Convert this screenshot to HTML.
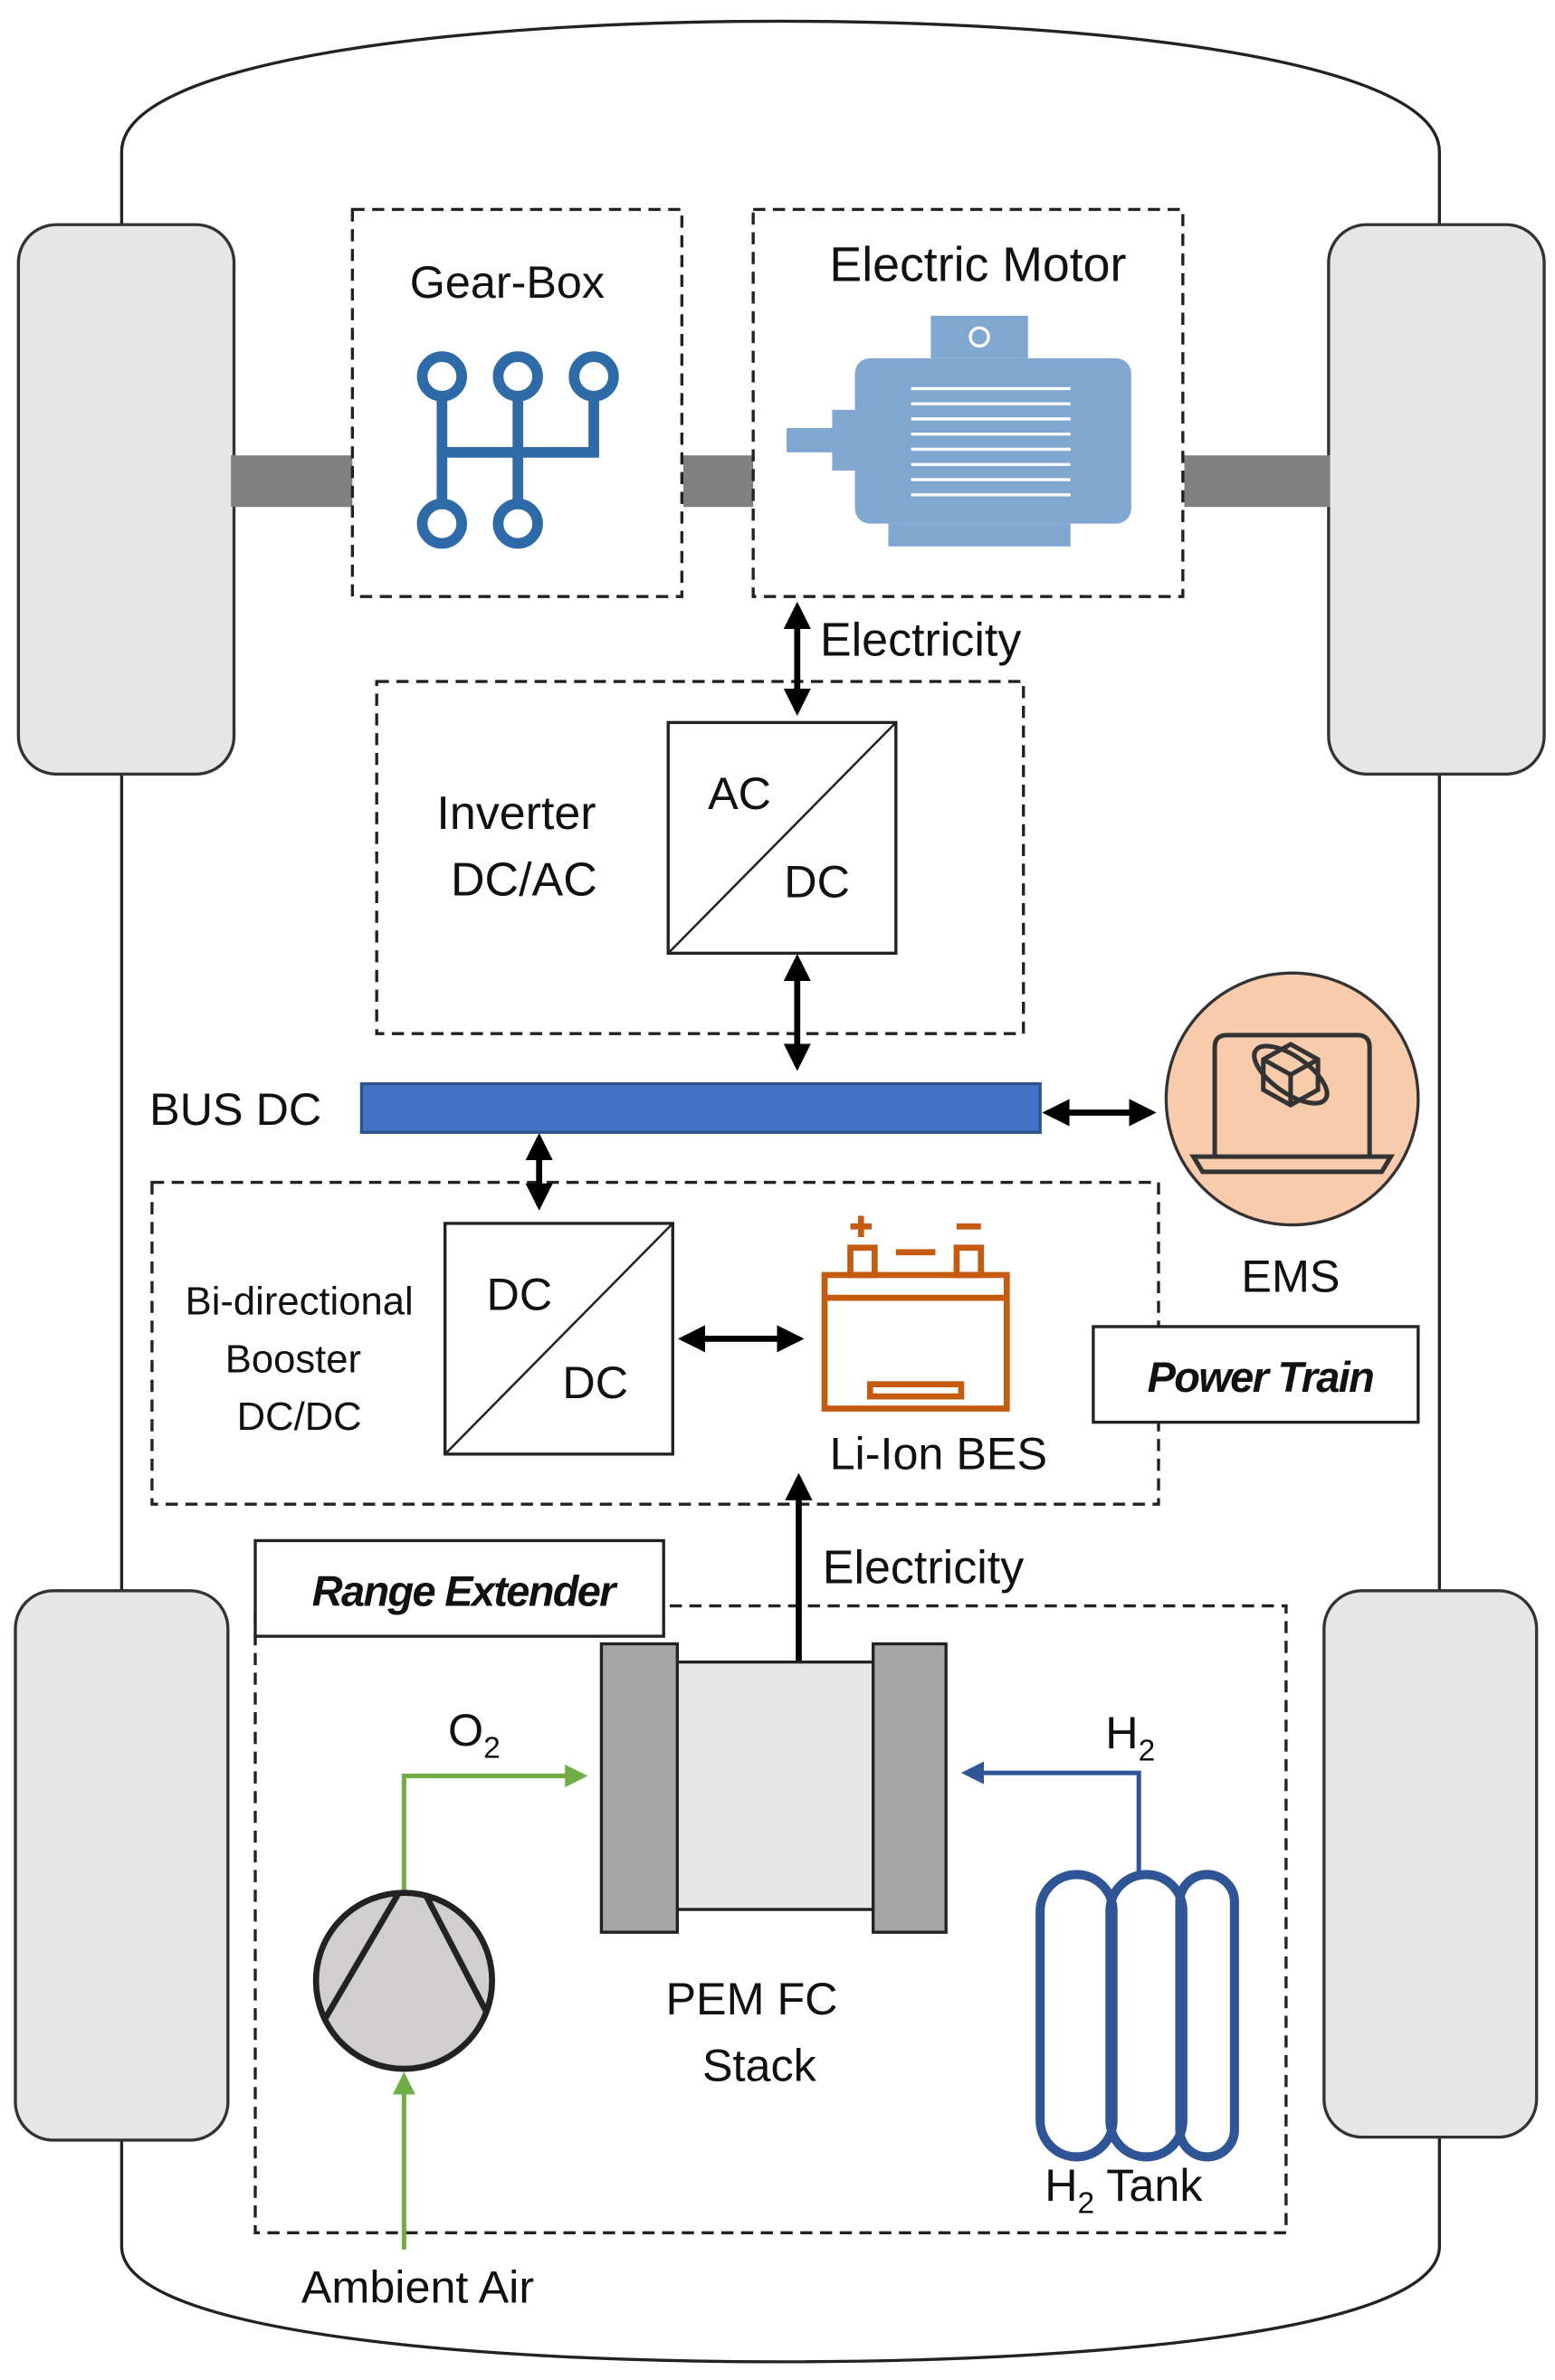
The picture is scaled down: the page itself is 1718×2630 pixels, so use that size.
<!DOCTYPE html>
<html><head><meta charset="utf-8"><style>
html,body{margin:0;padding:0;background:#fff}
svg{display:block}
text{font-family:"Liberation Sans","DejaVu Sans",sans-serif;fill:#111}
</style></head><body>
<svg width="1718" height="2630" viewBox="0 0 1024 1568" xmlns="http://www.w3.org/2000/svg">
<defs>
<marker id="ak" viewBox="0 0 10 10" refX="8" refY="5" markerWidth="4.5" markerHeight="4.5" orient="auto-start-reverse"><path d="M0,0 L10,5 L0,10 z" fill="#000"/></marker>
<marker id="ag" viewBox="0 0 10 10" refX="8" refY="5" markerWidth="5" markerHeight="5" orient="auto"><path d="M0,0 L10,5 L0,10 z" fill="#70ad47"/></marker>
<marker id="ab" viewBox="0 0 10 10" refX="8" refY="5" markerWidth="5" markerHeight="5" orient="auto"><path d="M0,0 L10,5 L0,10 z" fill="#2f5597"/></marker>
</defs>
<path d="M80,100 C80,40 300,14 514,14 C728,14 948,40 948,100 L948,1480 C948,1535 728,1556 514,1556 C300,1556 80,1535 80,1480 Z" fill="#fff" stroke="#222" stroke-width="2"/>
<g fill="#e6e6e6" stroke="#333" stroke-width="2">
<rect x="12" y="148" width="142" height="362" rx="25"/>
<rect x="875" y="148" width="142" height="362" rx="25"/>
<rect x="10" y="1048" width="140" height="362" rx="25"/>
<rect x="872" y="1048" width="140" height="360" rx="25"/>
</g>
<g fill="#808080">
<rect x="152" y="300" width="80" height="34"/>
<rect x="450" y="300" width="46" height="34"/>
<rect x="780" y="300" width="96" height="34"/>
</g>
<g fill="none" stroke="#222" stroke-width="2" stroke-dasharray="8,5">
<rect x="232" y="138" width="217" height="255"/>
<rect x="496" y="138" width="283" height="255"/>
<rect x="248" y="449" width="426" height="232"/>
<rect x="100" y="779" width="663" height="212"/>
<rect x="168" y="1058" width="679" height="413"/>
</g>
<text x="334" y="196" font-size="30" text-anchor="middle">Gear-Box</text>
<text x="644" y="185" font-size="32" text-anchor="middle">Electric Motor</text>
<g fill="none" stroke="#2e6aa8" stroke-width="7">
<circle cx="291" cy="248" r="13"/><circle cx="341" cy="248" r="13"/><circle cx="391" cy="248" r="13"/>
<circle cx="291" cy="345" r="13"/><circle cx="341" cy="345" r="13"/>
<path d="M291,261 V332 M341,261 V332 M391,261 V298 H291"/>
</g>
<g fill="#7fa7cf">
<rect x="613" y="208" width="64" height="28"/>
<rect x="563" y="236" width="182" height="109" rx="10"/>
<rect x="518" y="282" width="42" height="16"/>
<rect x="548" y="270" width="16" height="40"/>
<rect x="585" y="345" width="120" height="15"/>
</g>
<circle cx="645" cy="222" r="6" fill="none" stroke="#fff" stroke-width="2"/>
<g stroke="#fff" stroke-width="2">
<line x1="600" y1="256" x2="705" y2="256"/><line x1="600" y1="266" x2="705" y2="266"/><line x1="600" y1="276" x2="705" y2="276"/><line x1="600" y1="286" x2="705" y2="286"/><line x1="600" y1="296" x2="705" y2="296"/><line x1="600" y1="306" x2="705" y2="306"/><line x1="600" y1="316" x2="705" y2="316"/><line x1="600" y1="326" x2="705" y2="326"/>
</g>
<g stroke="#000" stroke-width="4" fill="none">
<line x1="525" y1="400" x2="525" y2="468" marker-start="url(#ak)" marker-end="url(#ak)"/>
<line x1="525" y1="632" x2="525" y2="702" marker-start="url(#ak)" marker-end="url(#ak)"/>
<line x1="690" y1="733" x2="758" y2="733" marker-start="url(#ak)" marker-end="url(#ak)"/>
<line x1="355" y1="750" x2="355" y2="794" marker-start="url(#ak)" marker-end="url(#ak)"/>
<line x1="450" y1="882" x2="526" y2="882" marker-start="url(#ak)" marker-end="url(#ak)"/>
<line x1="526" y1="1095" x2="526" y2="974" marker-end="url(#ak)"/>
</g>
<text x="540" y="432" font-size="31">Electricity</text>
<text x="340" y="546" font-size="31" text-anchor="middle">Inverter</text>
<text x="345" y="590" font-size="31" text-anchor="middle">DC/AC</text>
<rect x="440" y="476" width="150" height="152" fill="#fff" stroke="#222" stroke-width="2"/>
<line x1="440" y1="628" x2="590" y2="476" stroke="#222" stroke-width="1.5"/>
<text x="487" y="533" font-size="30" text-anchor="middle">AC</text>
<text x="538" y="591" font-size="30" text-anchor="middle">DC</text>
<rect x="238" y="714" width="447" height="32" fill="#4472c4" stroke="#2f528f" stroke-width="2"/>
<text x="155" y="741" font-size="30" text-anchor="middle">BUS DC</text>
<circle cx="851" cy="724" r="83" fill="#f8cbad" stroke="#333" stroke-width="2"/>
<g fill="none" stroke="#333" stroke-width="3">
<path d="M800,762 V690 Q800,682 808,682 H894 Q902,682 902,690 V762"/>
<path d="M786,762 H916 L910,772 H792 Z"/>
<path d="M850,688 L868,698 L868,718 L850,728 L832,718 L832,698 Z M832,698 L850,708 L868,698 M850,708 V728"/>
<ellipse cx="850" cy="708" rx="28" ry="12" transform="rotate(35 850 708)"/>
</g>
<text x="850" y="851" font-size="30" text-anchor="middle">EMS</text>
<text x="197" y="866" font-size="26" text-anchor="middle">Bi-directional</text>
<text x="193" y="904" font-size="26" text-anchor="middle">Booster</text>
<text x="197" y="942" font-size="26" text-anchor="middle">DC/DC</text>
<rect x="293" y="806" width="150" height="152" fill="#fff" stroke="#222" stroke-width="2"/>
<line x1="293" y1="958" x2="443" y2="806" stroke="#222" stroke-width="1.5"/>
<text x="342" y="863" font-size="30" text-anchor="middle">DC</text>
<text x="392" y="921" font-size="30" text-anchor="middle">DC</text>
<g fill="none" stroke="#c55a11" stroke-width="4">
<rect x="543" y="840" width="120" height="88"/>
<rect x="560" y="822" width="16" height="18"/>
<rect x="630" y="822" width="16" height="18"/>
<line x1="543" y1="855" x2="663" y2="855"/>
<line x1="590" y1="825" x2="616" y2="825"/>
<path d="M560,808 H574 M567,801 V815 M630,808 H646"/>
<rect x="573" y="912" width="60" height="8"/>
</g>
<text x="618" y="968" font-size="30" text-anchor="middle">Li-Ion BES</text>
<rect x="720" y="874" width="214" height="63" fill="#fff" stroke="#222" stroke-width="2"/>
<text x="830" y="917" font-size="28" font-weight="bold" font-style="italic" text-anchor="middle" letter-spacing="-1">Power Train</text>
<text x="608" y="1043" font-size="31" text-anchor="middle">Electricity</text>
<rect x="168" y="1015" width="269" height="63" fill="#fff" stroke="#222" stroke-width="2"/>
<text x="305" y="1058" font-size="28" font-weight="bold" font-style="italic" text-anchor="middle" letter-spacing="-1">Range Extender</text>
<rect x="444" y="1095" width="131" height="163" fill="#e6e6e6" stroke="#222" stroke-width="2"/>
<rect x="396" y="1083" width="50" height="190" fill="#a6a6a6" stroke="#222" stroke-width="2"/>
<rect x="575" y="1083" width="48" height="190" fill="#a6a6a6" stroke="#222" stroke-width="2"/>
<text x="495" y="1327" font-size="30" text-anchor="middle">PEM FC</text>
<text x="500" y="1371" font-size="30" text-anchor="middle">Stack</text>
<path d="M266,1247 V1170 H384" fill="none" stroke="#70ad47" stroke-width="3" marker-end="url(#ag)"/>
<line x1="266" y1="1482" x2="266" y2="1368" stroke="#70ad47" stroke-width="3" marker-end="url(#ag)"/>
<text x="295" y="1150" font-size="30">O<tspan font-size="20" dy="8">2</tspan></text>
<circle cx="266" cy="1305" r="58" fill="#d0cece" stroke="#222" stroke-width="4"/>
<path d="M214,1330 L262,1248 M280,1248 L320,1325" stroke="#222" stroke-width="4"/>
<text x="275" y="1517" font-size="30" text-anchor="middle">Ambient Air</text>
<path d="M750,1235 V1168 H636" fill="none" stroke="#2f5597" stroke-width="3" marker-end="url(#ab)"/>
<text x="728" y="1152" font-size="30">H<tspan font-size="20" dy="8">2</tspan></text>
<g fill="none" stroke="#2f5597" stroke-width="6">
<rect x="685" y="1235" width="48" height="186" rx="24"/>
<rect x="731" y="1235" width="48" height="186" rx="24"/>
<rect x="777" y="1235" width="36" height="186" rx="18"/>
</g>
<text x="688" y="1450" font-size="30">H<tspan font-size="20" dy="8">2</tspan><tspan dy="-8"> Tank</tspan></text>
</svg>
</body></html>
